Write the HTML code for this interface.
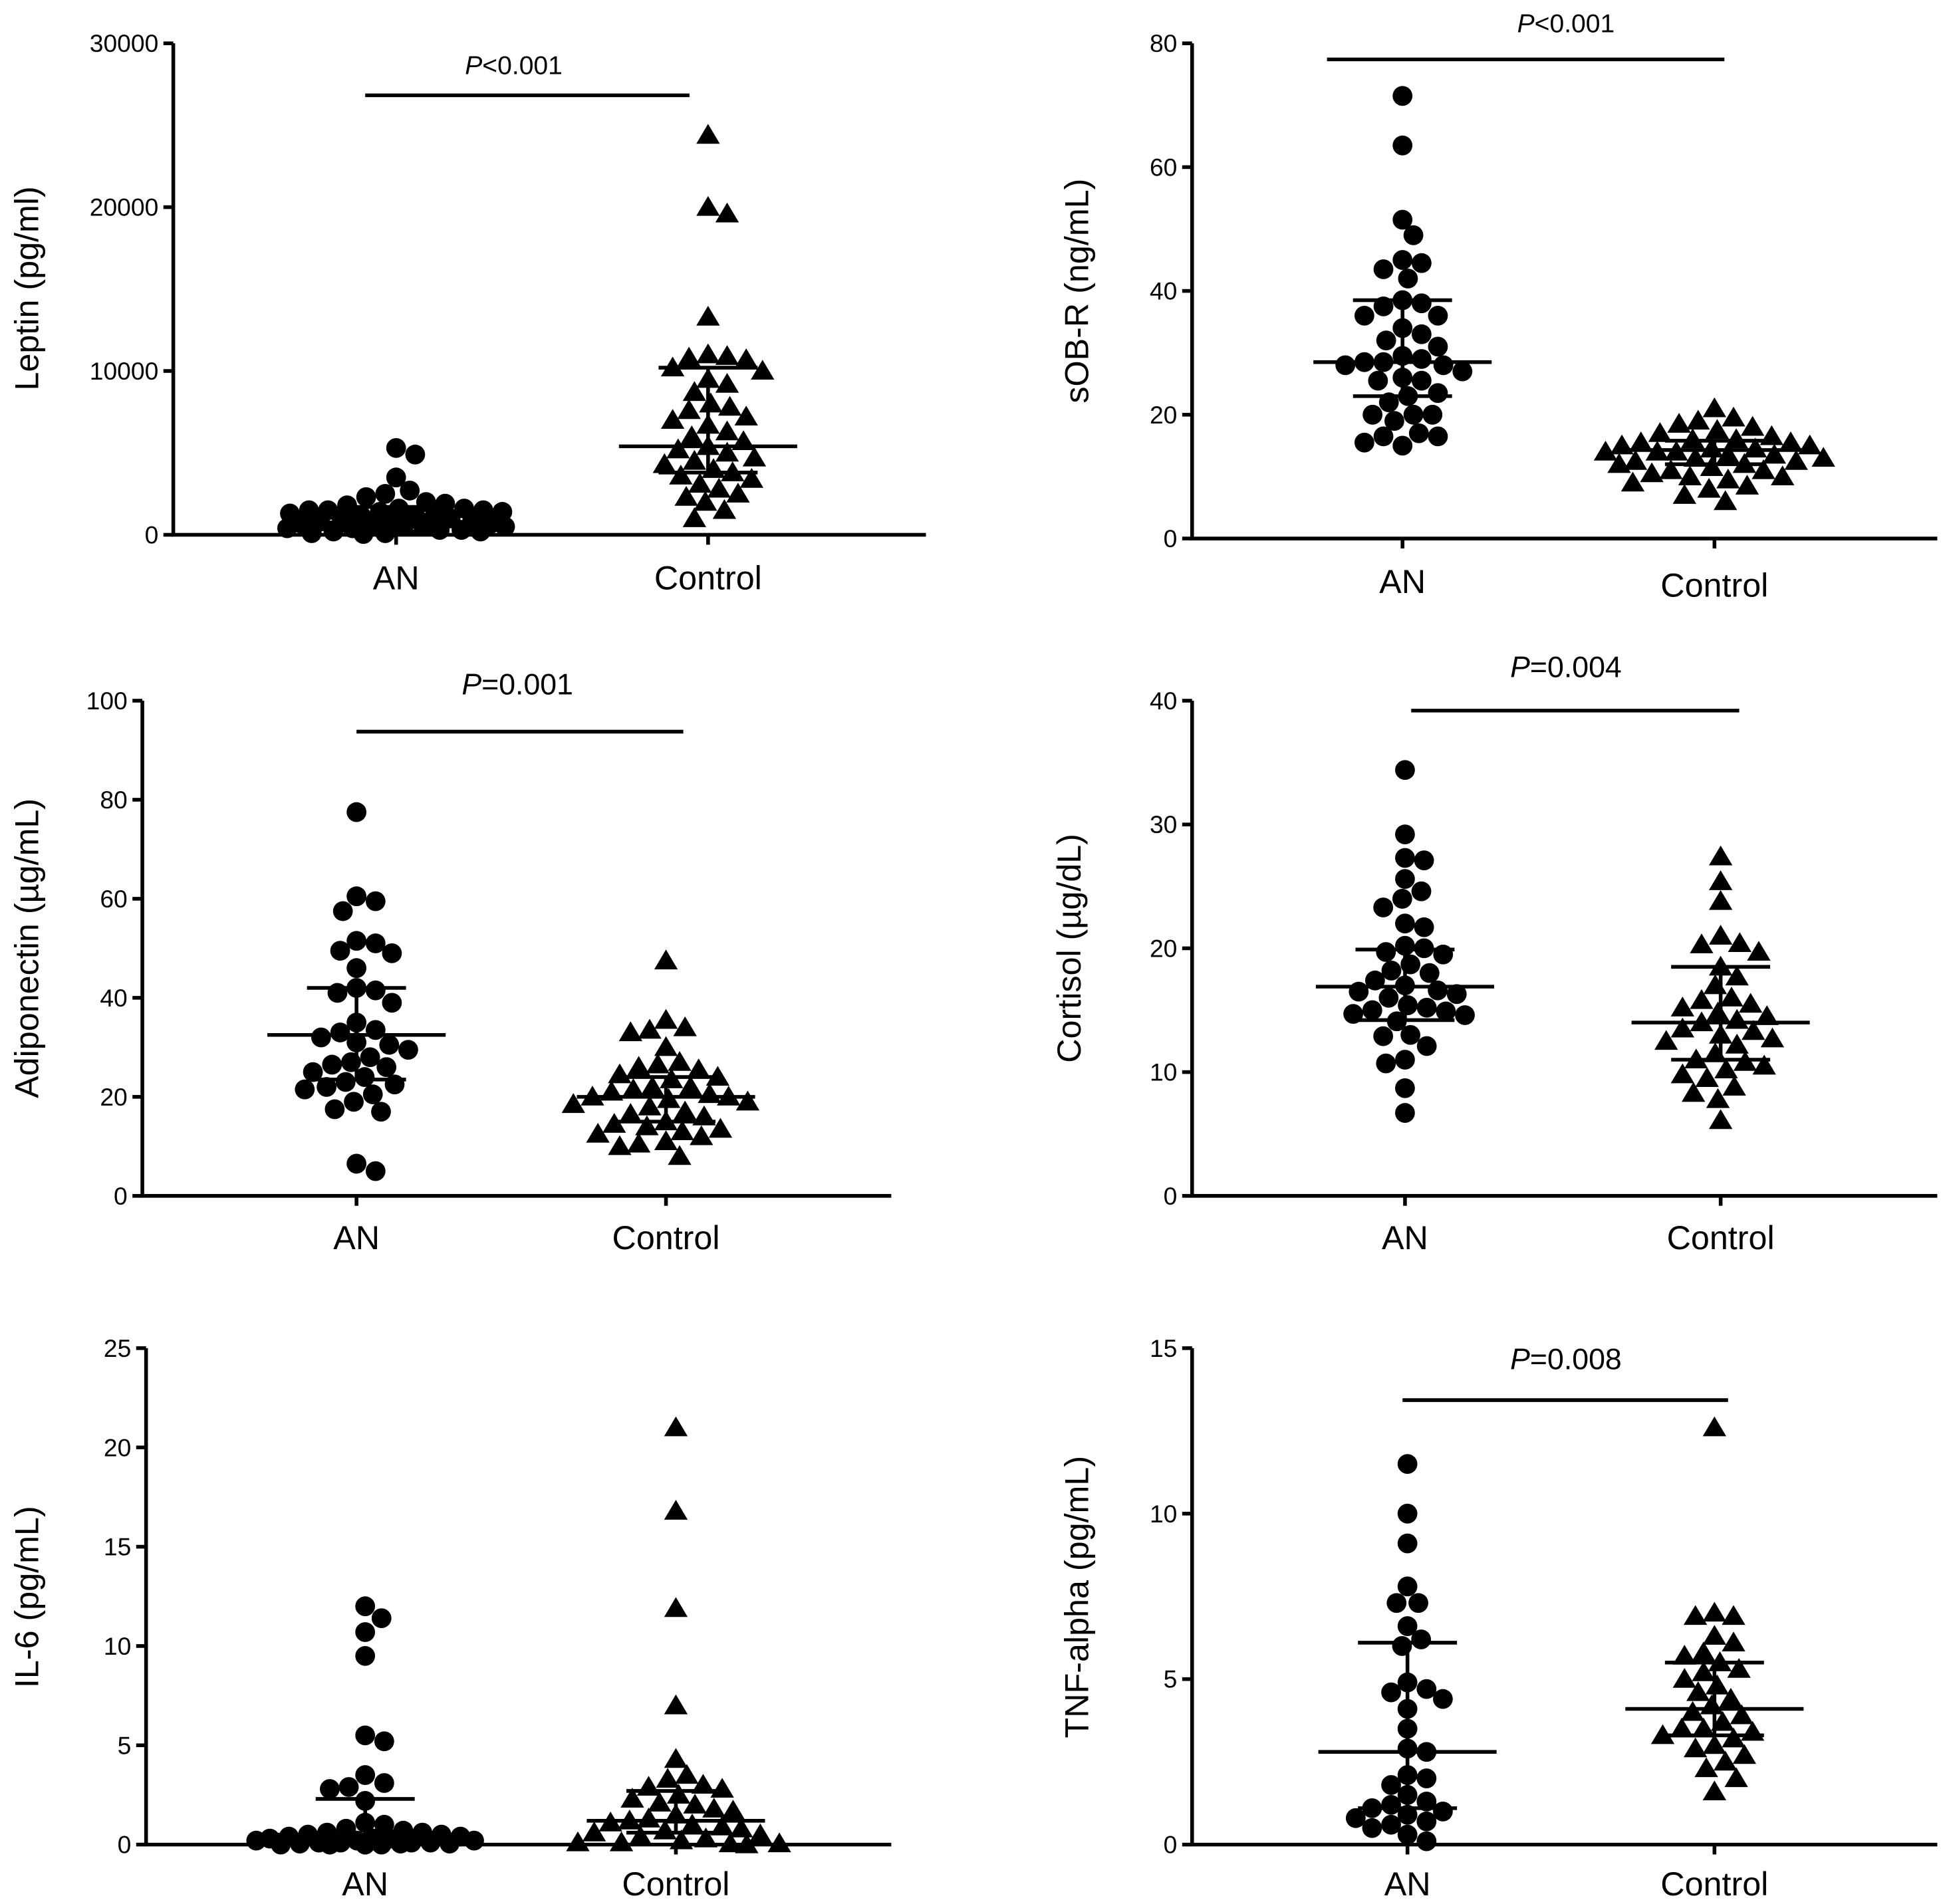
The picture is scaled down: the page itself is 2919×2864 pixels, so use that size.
<!DOCTYPE html>
<html><head><meta charset="utf-8">
<style>
html,body{margin:0;padding:0;background:#fff;}
svg{display:block;}
text{font-family:"Liberation Sans",Arial,sans-serif;fill:#000;}
</style></head>
<body>
<svg id="fig" width="2919" height="2864" viewBox="0 0 1568 1538" preserveAspectRatio="none" xmlns="http://www.w3.org/2000/svg"></svg>
<script>
// ---- data ----
const categories = ["AN", "Control"];
const leptinAN = [5300,4900,3500,2700,2500,2300,2000,1900,1800,1600,1600,1500,1500,1500,1400,1400,1300,1200,1200,1100,1000,1000,900,900,800,700,700,600,600,500,500,400,400,300,300,200,200,100,100,50];
const leptinCtrl = [24400,20000,19600,13300,11000,10900,10800,10700,10200,10000,9500,9200,8700,8000,7800,7600,7200,7000,6700,6300,6000,5700,5400,5200,5000,4700,4500,4300,4000,3800,3600,3400,3100,2800,2500,2300,2000,1500,1000];
const leptinStats = [[750,1700,200],[5400,10200,3800]];
const sobrAN = [71.5,63.5,51.5,49,45,44.5,43.5,42,38.5,38,37.5,36,36,34,33,32,31,29.5,29,28.5,28.5,28,28,27,26,25.5,25.5,23.5,23,22,20,20,20,19,17,16.5,16.5,15.5,15];
const sobrCtrl = [21,19.5,19,18.5,18,17.5,17,16.5,16,16,15.5,15.5,15,15,14.5,14.5,14,14,14,13.5,13.5,13,13,12.5,12.5,12,12,11.5,11,11,10.5,10,10,9.5,9,8.5,8,7,6];
const sobrStats = [[28.5,38.5,23],[14.3,15.8,12]];
const adipoAN = [77.5,60.5,59.5,57.5,51.5,51,49.5,49,46,42,41.5,41,39,35,33.5,33,32,31,30.5,29.5,28,27,26.5,26,25,24,23,22.5,22,21.5,20.5,19,17.5,17,6.5,5];
const adipoCtrl = [47.5,35.5,34,33.5,33,30,27,26.5,26,25.5,24.5,24,23.5,22,22,21.5,21,20.5,20,20,19.5,19,18.5,18,17,16.5,16,15,14.5,14,13.5,13,12.5,12,11,10.5,10,8];
const adipoStats = [[32.5,42,23.5],[20,24,15]];
const cortAN = [34.4,29.2,27.3,27.1,25.6,24.6,24,23.3,22,21.7,20.2,20,19.7,19.5,18.7,18.2,18,17.4,17,16.6,16.5,16.3,16,15.4,15.2,15,14.9,14.7,14.6,14.1,13,12.9,12.1,11,10.7,8.7,6.7];
const cortCtrl = [27.4,25.4,23.8,21,20.4,20.3,19.7,18.5,17.7,17,16,15.8,15.5,15.2,14.8,14.5,14.2,14,13.5,13.3,13,12.7,12.5,12.2,11.5,11,10.8,10.5,10.2,9.8,9.5,8.8,8.3,7.8,6.1];
const cortStats = [[16.9,19.9,14.2],[14,18.5,11]];
const il6AN = [12,11.4,10.7,9.5,5.5,5.2,3.5,3.1,2.9,2.8,2.2,1.1,1,0.8,0.7,0.6,0.6,0.5,0.5,0.4,0.4,0.3,0.3,0.3,0.2,0.2,0.2,0.1,0.1,0.1,0.1,0.05,0.05,0.05,0,0,0,0];
const il6Ctrl = [21,16.8,11.9,7,4.3,3.5,3.3,3,2.9,2.8,2.5,2.3,2.1,2,1.8,1.7,1.5,1.3,1.2,1.1,1,0.9,0.8,0.7,0.6,0.5,0.4,0.3,0.2,0.1,0.1,0.05,0.05,0];
const il6Stats = [[0.5,2.3,0.1],[1.2,2.7,0.6]];
const tnfAN = [11.5,10,9.1,7.8,7.3,7.3,6.6,6.2,6,4.9,4.7,4.6,4.4,4.1,3.5,2.9,2.8,2.1,2,1.8,1.5,1.3,1.2,1.1,1,0.9,0.8,0.7,0.6,0.5,0.3,0.1];
const tnfCtrl = [12.6,7,6.9,6.9,6.3,6.1,5.8,5.7,5.5,5.3,5.2,5,4.8,4.6,4.4,4.2,4,3.9,3.7,3.5,3.5,3.4,3.3,3.2,3,2.9,2.7,2.5,2.3,2,1.6];
const tnfStats = [[2.8,6.1,1.1],[4.1,5.5,3.3]];
const leptinTicks = [0,10000,20000,30000];
const sobrTicks = [0,20,40,60,80];
const adipoTicks = [0,20,40,60,80,100];
const cortTicks = [0,10,20,30,40];
const il6Ticks = [0,5,10,15,20,25];
const tnfTicks = [0,5,10,15];

const NS="http://www.w3.org/2000/svg";
const svg=document.getElementById('fig');
function mk(tag,attrs,parent){const e=document.createElementNS(NS,tag);for(const k in attrs)e.setAttribute(k,attrs[k]);(parent||svg).appendChild(e);return e;}

const panels=[
 {name:'leptin',title:'Leptin (pg/ml)',ax:140,top:35,zero:432,xend:748,max:30000,ticks:leptinTicks,cx:[320,572],laby:[466,466],data:[leptinAN,leptinCtrl],stats:leptinStats,p:'<0.001',px:415,py:52,pl:[295,557,77],tx:22,ty:233},
 {name:'sobr',title:'sOB-R (ng/mL)',ax:963,top:35,zero:435,xend:1565,max:80,ticks:sobrTicks,cx:[1133,1385],laby:[469,472],data:[sobrAN,sobrCtrl],stats:sobrStats,p:'<0.001',px:1265,py:18,pl:[1072,1393,48],tx:870,ty:235},
 {name:'adiponectin',title:'Adiponectin (µg/mL)',ax:115,top:566,zero:966,xend:720,max:100,ticks:adipoTicks,cx:[288,538],laby:[999,999],data:[adipoAN,adipoCtrl],stats:adipoStats,p:'=0.001',px:418,py:553,pl:[288,552,591],tx:22,ty:766},
 {name:'cortisol',title:'Cortisol (µg/dL)',ax:963,top:566,zero:966,xend:1565,max:40,ticks:cortTicks,cx:[1135,1390],laby:[999,999],data:[cortAN,cortCtrl],stats:cortStats,p:'=0.004',px:1265,py:539,pl:[1140,1405,574],tx:864,ty:766},
 {name:'il6',title:'IL-6 (pg/mL)',ax:118,top:1089,zero:1490,xend:720,max:25,ticks:il6Ticks,cx:[295,546],laby:[1521,1521],data:[il6AN,il6Ctrl],stats:il6Stats,p:null,tx:22,ty:1290},
 {name:'tnf',title:'TNF-alpha (pg/mL)',ax:963,top:1089,zero:1490,xend:1565,max:15,ticks:tnfTicks,cx:[1137,1385],laby:[1521,1521],data:[tnfAN,tnfCtrl],stats:tnfStats,p:'=0.008',px:1265,py:1098,pl:[1133,1396,1131],tx:870,ty:1290}
];

const R=8;
function swarm(ys,maxW){
  const idx=ys.map((y,i)=>i).sort((a,b)=>ys[a]-ys[b]);
  const placed=[];const xs=new Array(ys.length);
  const d=2*R*0.95;
  const cands=[0];
  for(let k=1;k*2.2<=maxW;k++){cands.push(k*2.2,-k*2.2);}
  idx.forEach(i=>{
    const y=ys[i];
    let best=null,bestScore=-1,bestC=0;
    for(const c of cands){
      let md=1e9;
      for(const p of placed){const dd=(p[0]-c)*(p[0]-c)+(p[1]-y)*(p[1]-y);if(dd<md)md=dd;}
      if(md>=d*d){best=c;break;}
      if(md>bestScore){bestScore=md;bestC=c;}
    }
    if(best===null)best=bestC;
    placed.push([best,y]);xs[i]=best;
  });
  return xs;
}

panels.forEach(P=>{
  const g=mk('g',{});
  
  
  const ys=v=>P.zero-(v/P.max)*(P.zero-P.top);
  const ya=mk('line',{x1:P.ax,y1:P.top,x2:P.ax,y2:P.zero,stroke:'#000','stroke-width':3},g);
  
  const xa=mk('line',{x1:P.ax-1.5,y1:P.zero,x2:P.xend,y2:P.zero,stroke:'#000','stroke-width':3},g);
  
  P.ticks.forEach(t=>{
    const y=ys(t);
    const tl=mk('line',{x1:P.ax-8,y1:y,x2:P.ax,y2:y,stroke:'#000','stroke-width':3},g);
    
    const tt=mk('text',{x:P.ax-12,y:y+7,'text-anchor':'end','font-size':20},g);
    tt.textContent=t;
    
  });
  P.cx.forEach((cx,ci)=>{
    const tl=mk('line',{x1:cx,y1:P.zero,x2:cx,y2:P.zero+8,stroke:'#000','stroke-width':3},g);
    
    const ct=mk('text',{x:cx,y:P.laby[ci]+10,'text-anchor':'middle','font-size':27},g);
    ct.textContent=categories[ci];
    
  });
  const ti=mk('text',{x:0,y:0,'text-anchor':'middle','font-size':27,transform:`translate(${P.tx+9},${P.ty}) rotate(-90)`},g);
  ti.textContent=P.title;
  
  P.data.forEach((arr,ci)=>{
    const pys=arr.map(v=>ys(v));
    const xs=swarm(pys,88);
    arr.forEach((v,i)=>{
      const x=P.cx[ci]+xs[i],y=pys[i];
      let m;
      if(ci===0){m=mk('circle',{cx:x,cy:y,r:R,fill:'#000'},g);}
      else{m=mk('polygon',{points:`${x},${y-9} ${x+9.5},${y+7} ${x-9.5},${y+7}`,fill:'#000'},g);}
      
      
    });
    const s=P.stats[ci];const cx=P.cx[ci];
    const ml=mk('line',{x1:cx-72,y1:ys(s[0]),x2:cx+72,y2:ys(s[0]),stroke:'#000','stroke-width':3},g);
    
    const eu=mk('line',{x1:cx-40,y1:ys(s[1]),x2:cx+40,y2:ys(s[1]),stroke:'#000','stroke-width':3},g);
    
    const el=mk('line',{x1:cx-40,y1:ys(s[2]),x2:cx+40,y2:ys(s[2]),stroke:'#000','stroke-width':3},g);
    
    const ev=mk('line',{x1:cx,y1:ys(s[1]),x2:cx,y2:ys(s[2]),stroke:'#000','stroke-width':3},g);
    
  });
  if(P.p){
    const pl=mk('line',{x1:P.pl[0],y1:P.pl[2],x2:P.pl[1],y2:P.pl[2],stroke:'#000','stroke-width':3},g);
    
    const pt=mk('text',{x:P.px,y:P.py+8,'text-anchor':'middle','font-size':P.p[0]==='<'?21:24},g);
    pt.innerHTML='<tspan font-style="italic">P</tspan>'+(P.p[0]==='<'?'&lt;':'=')+P.p.slice(1);
    
  }
});
</script>
</body></html>
